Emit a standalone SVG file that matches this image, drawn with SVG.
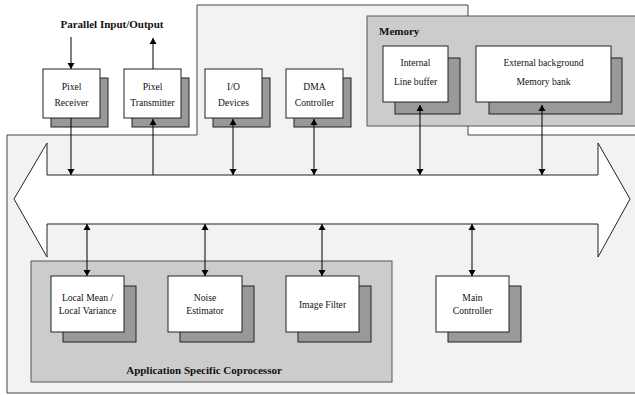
<svg xmlns="http://www.w3.org/2000/svg" width="635" height="395" viewBox="0 0 635 395">
<defs>
<style>
.t{font-family:"Liberation Serif","Times New Roman",serif;font-size:9.6px;fill:#111;text-anchor:middle}
.b{font-family:"Liberation Serif","Times New Roman",serif;font-size:11px;font-weight:bold;fill:#111}
.box{fill:#fff;stroke:#222;stroke-width:1}
.sh{fill:#999;stroke:#222;stroke-width:1}
.grp{fill:#ccc;stroke:#555;stroke-width:1}
.ln{stroke:#000;stroke-width:1;fill:none}
</style>
<marker id="ah" viewBox="0 0 6 10" refX="6" refY="5" markerWidth="6" markerHeight="10" markerUnits="userSpaceOnUse" orient="auto-start-reverse">
<path d="M0,1.5 L6,5 L0,8.5 z" fill="#000"/>
</marker>
</defs>
<rect width="635" height="395" fill="#fff"/>
<path id="bg" d="M7,135 L197,135 L197,5 L468,5 L468,135 L640,135 L640,393 L7,393 Z" fill="#f2f2f2" stroke="#444" stroke-width="1"/>
<g id="memory">
<rect class="grp" x="367" y="16" width="280" height="110"/>
<text class="b" x="379" y="35">Memory</text>
</g>
<g id="coprocessor">
<rect class="grp" x="31" y="261" width="361" height="121"/>
<text class="b" x="204" y="374" text-anchor="middle">Application Specific Coprocessor</text>
</g>
<text class="b" x="112" y="28" text-anchor="middle">Parallel Input/Output</text>
<g id="bus">
<path d="M47,175 L598,175 L598,143 L630,199 L598,257 L598,224 L47,224 L47,257 L14,199 L47,143 Z" fill="#fff" stroke="#222" stroke-width="1"/>
</g>
<g id="pixel-receiver">
<rect class="sh" x="51" y="78" width="57" height="49"/>
<rect class="box" x="43" y="69" width="57" height="49"/>
<text class="t" x="71.5" y="90">Pixel</text>
<text class="t" x="71.5" y="106">Receiver</text>
</g>
<g id="pixel-transmitter">
<rect class="sh" x="132" y="78" width="57" height="49"/>
<rect class="box" x="124" y="69" width="57" height="49"/>
<text class="t" x="152.5" y="90">Pixel</text>
<text class="t" x="152.5" y="106">Transmitter</text>
</g>
<g id="io-devices">
<rect class="sh" x="213" y="78" width="57" height="49"/>
<rect class="box" x="205" y="69" width="57" height="49"/>
<text class="t" x="233.5" y="90">I/O</text>
<text class="t" x="233.5" y="106">Devices</text>
</g>
<g id="dma-controller">
<rect class="sh" x="294" y="78" width="57" height="49"/>
<rect class="box" x="286" y="69" width="57" height="49"/>
<text class="t" x="314.5" y="90">DMA</text>
<text class="t" x="314.5" y="106">Controller</text>
</g>
<g id="line-buffer">
<rect class="sh" x="395" y="58" width="65" height="56"/>
<rect class="box" x="383" y="46" width="65" height="56"/>
<text class="t" x="415.5" y="66">Internal</text>
<text class="t" x="415.5" y="85">Line buffer</text>
</g>
<g id="memory-bank">
<rect class="sh" x="489" y="58" width="133" height="56"/>
<rect class="box" x="476" y="46" width="135" height="56"/>
<text class="t" x="543.5" y="66">External background</text>
<text class="t" x="543.5" y="85">Memory bank</text>
</g>
<g id="local-mean">
<rect class="sh" x="63" y="286" width="73" height="56"/>
<rect class="box" x="51" y="276" width="73" height="56"/>
<text class="t" x="87.5" y="301">Local Mean /</text>
<text class="t" x="87.5" y="314">Local Variance</text>
</g>
<g id="noise-estimator">
<rect class="sh" x="180" y="286" width="74" height="56"/>
<rect class="box" x="168" y="276" width="74" height="56"/>
<text class="t" x="205" y="301">Noise</text>
<text class="t" x="205" y="314">Estimator</text>
</g>
<g id="image-filter">
<rect class="sh" x="298" y="286" width="73" height="56"/>
<rect class="box" x="286" y="276" width="73" height="56"/>
<text class="t" x="322.5" y="308">Image Filter</text>
</g>
<g id="main-controller">
<rect class="sh" x="448" y="286" width="73" height="56"/>
<rect class="box" x="436" y="276" width="73" height="56"/>
<text class="t" x="472.5" y="301">Main</text>
<text class="t" x="472.5" y="314">Controller</text>
</g>
<g id="connectors">
<line class="ln" x1="71" y1="37" x2="71" y2="69" marker-end="url(#ah)"/>
<line class="ln" x1="153" y1="69" x2="153" y2="38" marker-end="url(#ah)"/>
<line class="ln" x1="71" y1="118" x2="71" y2="175" marker-end="url(#ah)"/>
<line class="ln" x1="153" y1="175" x2="153" y2="119" marker-end="url(#ah)"/>
<line class="ln" x1="233" y1="119" x2="233" y2="175" marker-start="url(#ah)" marker-end="url(#ah)"/>
<line class="ln" x1="314" y1="119" x2="314" y2="175" marker-start="url(#ah)" marker-end="url(#ah)"/>
<line class="ln" x1="420" y1="105" x2="420" y2="175" marker-start="url(#ah)" marker-end="url(#ah)"/>
<line class="ln" x1="542" y1="105" x2="542" y2="175" marker-start="url(#ah)" marker-end="url(#ah)"/>
<line class="ln" x1="87" y1="224" x2="87" y2="276" marker-start="url(#ah)" marker-end="url(#ah)"/>
<line class="ln" x1="205" y1="224" x2="205" y2="276" marker-start="url(#ah)" marker-end="url(#ah)"/>
<line class="ln" x1="322" y1="224" x2="322" y2="276" marker-start="url(#ah)" marker-end="url(#ah)"/>
<line class="ln" x1="472" y1="224" x2="472" y2="276" marker-start="url(#ah)" marker-end="url(#ah)"/>
</g>
</svg>
